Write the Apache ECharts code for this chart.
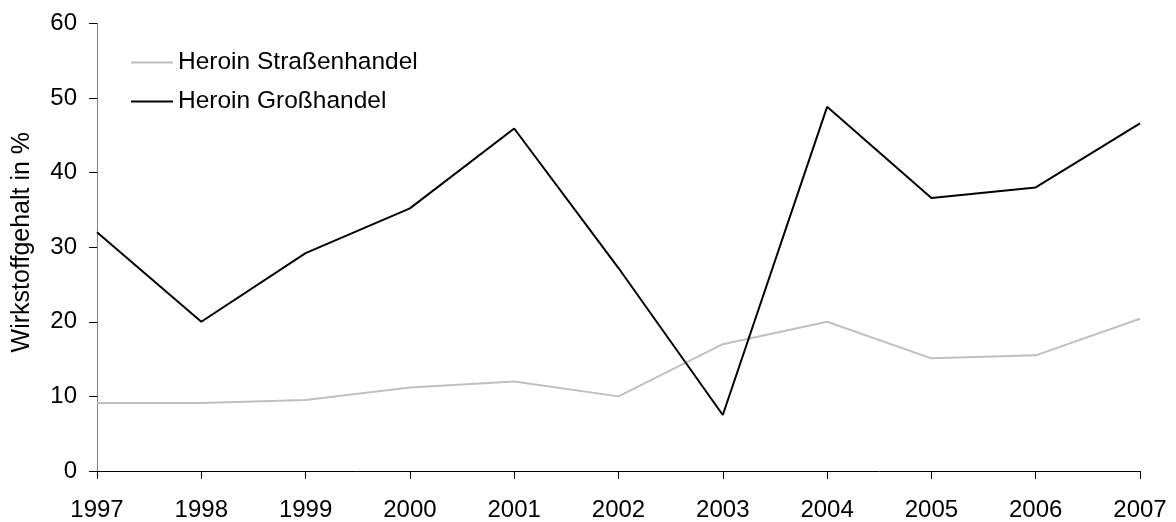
<!DOCTYPE html>
<html>
<head>
<meta charset="utf-8">
<script src="https://cdn.jsdelivr.net/npm/echarts@6/dist/echarts.min.js"></script>
<style>
  html, body { margin: 0; padding: 0; background: #ffffff; }
  #chart { width: 1176px; height: 522px; }
</style>
</head>
<body>
<div id="chart"></div>
<script>
// Jahre (Kategorien der x-Achse)
const years = ['1997', '1998', '1999', '2000', '2001', '2002', '2003', '2004', '2005', '2006', '2007'];

// Wirkstoffgehalt in Prozent
const strassenhandel = [9.1, 9.1, 9.5, 11.2, 12.0, 10.0, 17.0, 20.0, 15.1, 15.5, 20.4];
const grosshandel = [32.0, 20.0, 29.2, 35.2, 45.9, 27.2, 7.5, 48.8, 36.6, 38.0, 46.6];

const seriesNames = ['Heroin Straßenhandel', 'Heroin Großhandel'];
const yAxisTitle = 'Wirkstoffgehalt in %';

const font = '"Liberation Sans", Arial, sans-serif';

const chart = echarts.init(document.getElementById('chart'), null, { renderer: 'canvas' });

chart.setOption({
  backgroundColor: '#ffffff',
  animation: false,
  grid: { left: 97, right: 36, top: 23.3, bottom: 50.3, containLabel: false },
  legend: {
    orient: 'vertical',
    left: 126,
    top: 45,
    itemWidth: 42,
    itemHeight: 2,
    itemGap: 14,
    icon: 'rect',
    textStyle: { fontFamily: font, fontSize: 24.5, color: '#000000', padding: [0, 0, 0, 0] },
    data: seriesNames
  },
  xAxis: {
    type: 'category',
    data: years,
    boundaryGap: false,
    axisLine: { lineStyle: { color: '#000000', width: 1 } },
    axisTick: { show: true, length: 8, inside: false, lineStyle: { color: '#000000' } },
    axisLabel: { fontFamily: font, fontSize: 24, color: '#000000', margin: 27 },
    splitLine: { show: false }
  },
  yAxis: {
    type: 'value',
    min: 0,
    max: 60,
    interval: 10,
    name: yAxisTitle,
    nameLocation: 'middle',
    nameGap: 62,
    nameRotate: 90,
    nameTextStyle: { fontFamily: font, fontSize: 25, color: '#000000', padding: [0, 0, 0, 10] },
    axisLine: { show: true, lineStyle: { color: '#808080', width: 1 } },
    axisTick: { show: true, length: 8, inside: false, lineStyle: { color: '#000000' } },
    axisLabel: { fontFamily: font, fontSize: 24, color: '#000000', margin: 20 },
    splitLine: { show: false }
  },
  series: [
    {
      name: seriesNames[0],
      type: 'line',
      data: strassenhandel,
      symbol: 'none',
      color: '#c0c0c0',
      lineStyle: { color: '#c0c0c0', width: 2 }
    },
    {
      name: seriesNames[1],
      type: 'line',
      data: grosshandel,
      symbol: 'none',
      color: '#000000',
      lineStyle: { color: '#000000', width: 2 }
    }
  ]
});
</script>
</body>
</html>
